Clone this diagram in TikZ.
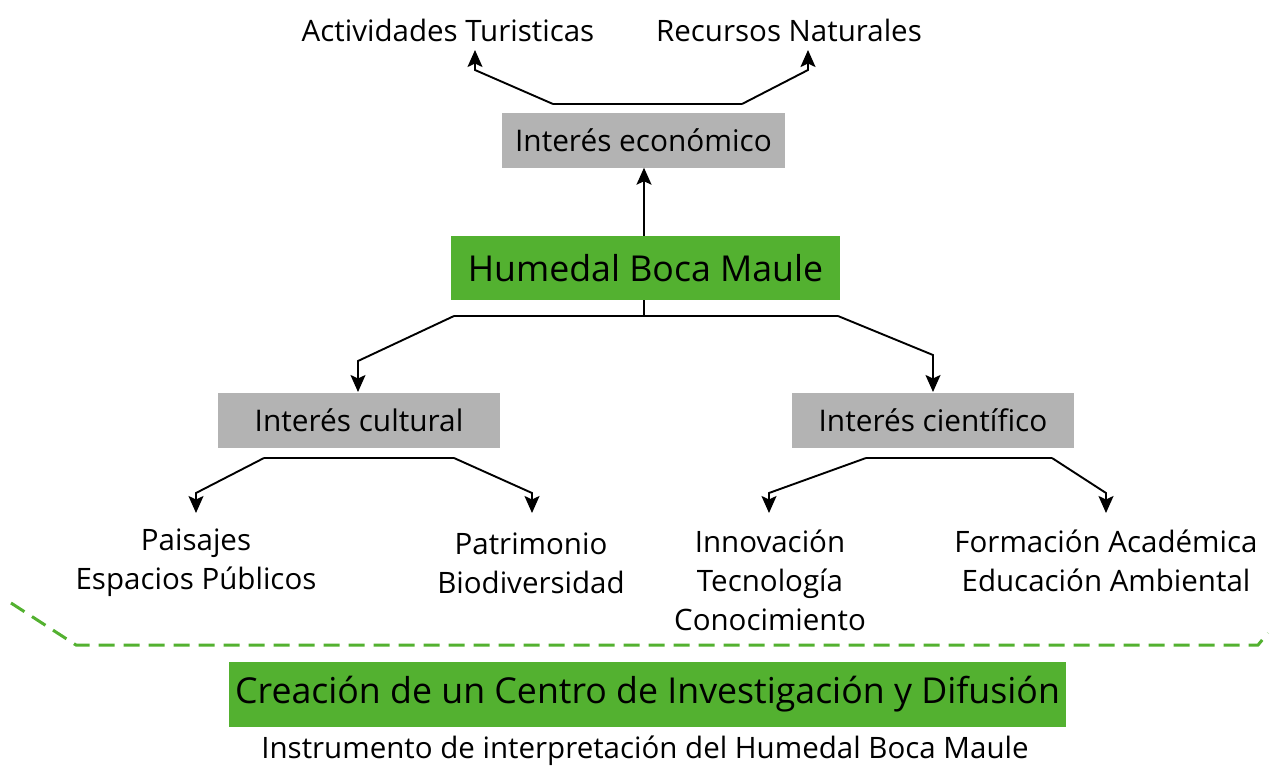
\documentclass[tikz,border=0pt]{standalone}
\usepackage{fontspec}
\setmainfont{Open Sans}
\usetikzlibrary{arrows.meta}
\definecolor{boxgreen}{HTML}{53B130}
\definecolor{boxgray}{HTML}{B3B3B3}
\begin{document}
\begin{tikzpicture}[x=1pt,y=1pt,
  graybox/.style={fill=boxgray,minimum width=283pt,minimum height=55pt,inner sep=0pt,font=\fontsize{29.8}{34}\selectfont},
  greenbox/.style={fill=boxgreen,inner sep=0pt},
  lbl/.style={inner sep=0pt,align=center,font=\fontsize{29.5}{39}\selectfont},
  conn/.style={line width=1.9pt,line join=miter,arrows={-Stealth[length=17pt,width=15pt,inset=3.5pt]}},
  plain/.style={line width=1.9pt},
  dashline/.style={draw=boxgreen,line width=3pt,dash pattern=on 16pt off 9pt}]
\useasboundingbox (0,0) rectangle (1272,-766);
% top labels
\node[lbl] (act) at (448,-30) {Actividades Turisticas};
\node[lbl] (rec) at (789,-30) {Recursos Naturales};
% boxes
\node[graybox,minimum width=283pt] (eco) at (643.5,-140) {Interés económico};
\node[greenbox,minimum width=389pt,minimum height=64pt,font=\fontsize{35.7}{40}\selectfont] (hum) at (645.5,-268) {Humedal Boca Maule};
\node[graybox,minimum width=282pt] (cul) at (359,-420.5) {Interés cultural};
\node[graybox,minimum width=282pt] (cie) at (933,-420.5) {Interés científico};
% leaves
\node[lbl] (pai) at (196,-563) {Paisajes\\Espacios Públicos};
\node[lbl] (pat) at (531,-563) {Patrimonio\\Biodiversidad};
\node[lbl] (inn) at (770,-580) {Innovación\\Tecnología\\Conocimiento};
\node[lbl] (for) at (1106,-561) {Formación Académica\\Educación Ambiental};
\node[greenbox,minimum width=837pt,minimum height=65pt,font=\fontsize{35.7}{40}\selectfont] (cre) at (647.5,-694.5) {Creación de un Centro de Investigación y Difusión};
\node[lbl,font=\fontsize{29.5}{34}\selectfont] (ins) at (645,-751) {Instrumento de interpretación del Humedal Boca Maule};
% coordinates
\coordinate (ecoL) at (553,-104);
\coordinate (ecoR) at (742,-104);
\coordinate (humJ) at (644,-316);
\coordinate (humL) at (454,-316);
\coordinate (humR) at (838,-316);
\coordinate (culL) at (264,-458);
\coordinate (culR) at (454,-458);
\coordinate (cieL) at (866,-458);
\coordinate (cieR) at (1052,-458);
% connectors
\draw[conn] (hum.north -| humJ) -- (eco.south -| humJ);
\draw[conn] (ecoL) -- (475,-70) -- (475,-50);
\draw[conn] (ecoR) -- (808,-70) -- (808,-50);
\draw[plain] (ecoL) -- (ecoR);
\draw[plain] (hum.south -| humJ) -- (humJ);
\draw[plain] (humL) -- (humR);
\draw[conn] (humL) -- (358,-361) -- (358,-392);
\draw[conn] (humR) -- (933,-355) -- (933,-392);
\draw[plain] (culL) -- (culR);
\draw[conn] (culL) -- (196,-493) -- (196,-513);
\draw[conn] (culR) -- (532,-493) -- (532,-513);
\draw[plain] (cieL) -- (cieR);
\draw[conn] (cieL) -- (769,-493) -- (769,-513);
\draw[conn] (cieR) -- (1106,-493) -- (1106,-513);
% dashed line
\draw[dashline] (11,-603) -- (76,-645) -- (1258,-645) -- (1268,-633);
\end{tikzpicture}
\end{document}
